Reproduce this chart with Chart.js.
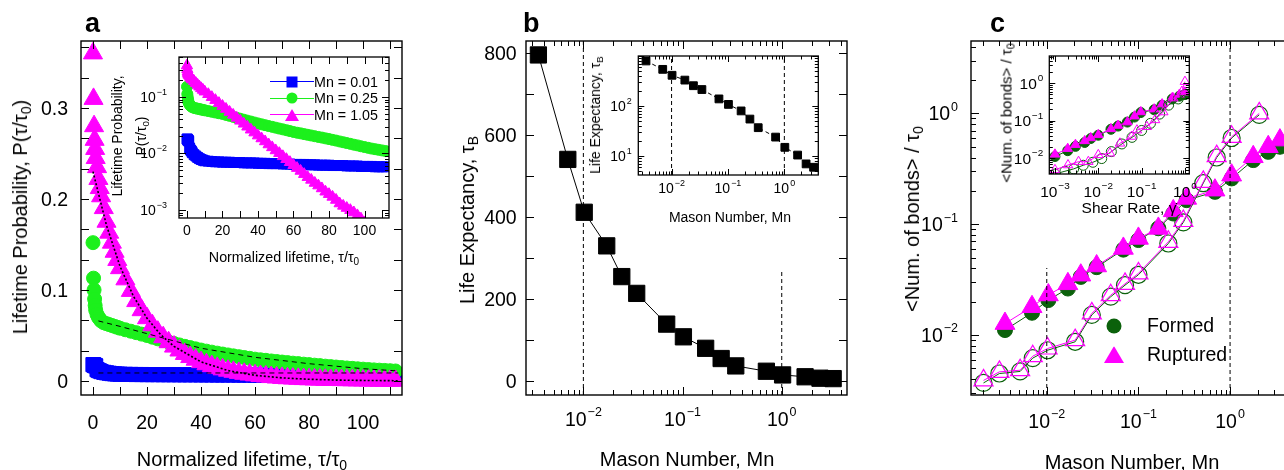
<!DOCTYPE html>
<html>
<head>
<meta charset="utf-8">
<script src="https://cdn.jsdelivr.net/npm/chart.js@4.4.1/dist/chart.umd.min.js"></script>
<style>
  html, body { margin: 0; padding: 0; background: #fff; overflow: hidden; }
  #fig { position: relative; width: 1284px; height: 470px; overflow: hidden; font-family: "Liberation Sans", Arial, sans-serif; color: #000; }
  canvas { position: absolute; }
  .t { position: absolute; white-space: nowrap; transform: translate(-50%, -50%); line-height: 1; }
  .rot { transform: translate(-50%, -50%) rotate(-90deg); }
  .lbl { position: absolute; top: 10px; font-weight: bold; font-size: 27px; line-height: 27px; }
  .leg { position: absolute; white-space: nowrap; transform: translateY(-50%); line-height: 1; }
  .mk { position: absolute; transform: translate(-50%, -50%); }
  sub { font-size: 0.7em; vertical-align: -0.3em; line-height: 0; }
</style>
</head>
<body>
<div id="fig">
  <canvas id="chartA" width="420" height="470" style="left:0;top:0"></canvas>
  <canvas id="chartB" width="430" height="470" style="left:430px;top:0"></canvas>
  <canvas id="chartC" width="440" height="470" style="left:870px;top:0"></canvas>
  <canvas id="insetA" width="300" height="235" style="left:100px;top:45px"></canvas>
  <canvas id="insetB" width="275" height="180" style="left:555px;top:45px"></canvas>
  <canvas id="insetC" width="205" height="165" style="left:995px;top:45px"></canvas>

  <div class="lbl" style="left:85px">a</div>
  <div class="lbl" style="left:523px">b</div>
  <div class="lbl" style="left:990px">c</div>

  <div class="t rot" style="left:20px;top:217px;font-size:20px">Lifetime Probability, P(τ/τ<sub>0</sub>)</div>
  <div class="t" style="left:242px;top:459px;font-size:20px">Normalized lifetime, τ/τ<sub>0</sub></div>
  <div class="t rot" style="left:129px;top:136px;font-size:14px;line-height:24px;text-align:center">Lifetime Probability,<br>P(τ/τ<sub>0</sub>)</div>
  <div class="t" style="left:284px;top:257px;font-size:14.3px">Normalized lifetime, τ/τ<sub>0</sub></div>

  <div class="t rot" style="left:467px;top:220px;font-size:20px">Life Expectancy, τ<sub>B</sub></div>
  <div class="t" style="left:687px;top:459px;font-size:20px">Mason Number, Mn</div>
  <div class="t rot" style="left:595px;top:115px;font-size:14px">Life Expectancy, τ<sub>B</sub></div>
  <div class="t" style="left:730px;top:217px;font-size:14px">Mason Number, Mn</div>

  <div class="t rot" style="left:912px;top:219px;font-size:20px">&lt;Num. of bonds&gt; / τ<sub>0</sub></div>
  <div class="t" style="left:1132px;top:462px;font-size:20px">Mason Number, Mn</div>
  <div class="t rot" style="left:1006px;top:113px;font-size:15px">&lt;Num. of bonds&gt; / τ<sub>0</sub></div>
  <div class="t" style="left:1129px;top:208px;font-size:15.5px">Shear Rate, γ̇</div>
</div>
<script>
// panel a: lifetime distributions
const tauA = [0, 0.2, 0.4, 0.6, 0.8, 1, 1.5, 2, 2.5, 3, 4, 5, 6, 7, 8, 9, 10,
  12, 14, 16, 18, 20, 22, 24, 26, 28, 30, 32, 34, 36, 38, 40, 42, 44, 46, 48, 50,
  52, 54, 56, 58, 60, 62, 64, 66, 68, 70, 72, 74, 76, 78, 80, 82, 84, 86, 88, 90,
  92, 94, 96, 98, 100, 102, 104, 106, 108, 110, 112];
const probMn001 = [0.018, 0.018, 0.0175, 0.017, 0.017, 0.0165, 0.0125, 0.0115, 0.011, 0.0103, 0.0095, 0.009, 0.0085, 0.0081, 0.0078, 0.0076, 0.0074,
  0.0073, 0.0072, 0.0071, 0.0071, 0.0070,
  0.0070, 0.0070, 0.0069, 0.0069, 0.0069, 0.0068, 0.0068, 0.0068, 0.0068, 0.0067,
  0.0067, 0.0067, 0.0066, 0.0066, 0.0066, 0.0066, 0.0065, 0.0065, 0.0065, 0.0064,
  0.0064, 0.0064, 0.0064, 0.0063, 0.0063, 0.0063, 0.0062, 0.0062, 0.0062, 0.0062,
  0.0061, 0.0061, 0.0061, 0.0061, 0.0060, 0.0060, 0.0060, 0.0060, 0.0059, 0.0059,
  0.0059, 0.0059, 0.0058, 0.0058, 0.0058, 0.0058];
const probMn025 = [0.152, 0.113, 0.100, 0.090, 0.083, 0.078, 0.073, 0.070, 0.068, 0.066, 0.064, 0.063, 0.062, 0.061, 0.060, 0.059, 0.058,
  0.0563, 0.0547, 0.0531, 0.0515, 0.050,
  0.0481, 0.0463, 0.0445, 0.0428, 0.0412, 0.0396, 0.0381, 0.0367, 0.0353, 0.034,
  0.0328, 0.0317, 0.0306, 0.0296, 0.0286, 0.0276, 0.0267, 0.0258, 0.0249, 0.024,
  0.0233, 0.0227, 0.022, 0.0214, 0.0208, 0.0202, 0.0196, 0.0191, 0.0185, 0.018,
  0.0174, 0.0169, 0.0163, 0.0158, 0.0153, 0.0148, 0.0143, 0.0139, 0.0134, 0.013,
  0.0126, 0.0122, 0.0119, 0.0116, 0.0113, 0.011];
const probMn105 = [0.360, 0.310, 0.280, 0.265, 0.255, 0.245, 0.235, 0.222, 0.212, 0.203, 0.190, 0.175, 0.163, 0.152, 0.142, 0.133, 0.124,
  0.1117, 0.099, 0.0878, 0.0778, 0.069,
  0.0612, 0.0542, 0.0481, 0.0426, 0.0378, 0.0335, 0.0297, 0.0263, 0.0234, 0.0207,
  0.0184, 0.0163, 0.0144, 0.0128, 0.0113, 0.0101, 0.0089, 0.0079, 0.0070, 0.0062,
  0.0055, 0.0049, 0.0043, 0.0038, 0.0034, 0.0030, 0.0027, 0.0024, 0.0021, 0.0019,
  0.0017, 0.0015, 0.0013, 0.00118, 0.00108, 0.00099, 0.0009, 0.0008, 0.0007, 0.0006,
  0.0005, 0.0004, 0.00035, 0.0003, 0.00025, 0.0002];
const fitTau001 = [2, 113];
const fit001 = [0.0088, 0.0088];
const fitTau025 = [2, 10, 20, 40, 60, 80, 100, 113];
const fit025 = [0.066, 0.06, 0.052, 0.036, 0.026, 0.019, 0.0135, 0.011];
const fitTau105 = [0, 5, 10, 15, 20, 25, 30, 40, 50, 60, 70, 80, 90, 100, 113];
const fit105 = [0.23, 0.171, 0.126, 0.093, 0.069, 0.051, 0.038, 0.021, 0.0114, 0.0062, 0.0034, 0.0019, 0.001, 0.0006, 0.0003];
const legendA = ["Mn = 0.01", "Mn = 0.25", "Mn = 1.05"];

// panel b: life expectancy
const mnB = [0.00352, 0.00697, 0.0102, 0.0172, 0.0244, 0.0345, 0.0692, 0.102, 0.171, 0.245, 0.344, 0.70, 1.02, 1.72, 2.43, 3.3];
const lifeB = [796, 541, 412, 330, 255, 214, 139, 108, 80, 55, 37, 24, 15, 10.5, 7, 6];
const refMn = [0.01, 1];
const refTopB = [830, 271];
const refTopInsetB = [1000, 1000];

// panel c: bond rates
const mnFilledC = [0.0035, 0.0069, 0.0104, 0.017, 0.0235, 0.035, 0.0685, 0.1, 0.165, 0.24, 0.336, 0.684, 1.04, 1.79, 2.61, 3.5];
const formedC = [0.0111, 0.0159, 0.0207, 0.0263, 0.0335, 0.041, 0.059, 0.072, 0.092, 0.125, 0.165, 0.196, 0.259, 0.379, 0.45, 0.5];
const rupturedC = [0.0127, 0.018, 0.023, 0.029, 0.0347, 0.042, 0.0605, 0.0745, 0.0917, 0.132, 0.171, 0.203, 0.277, 0.406, 0.5, 0.574];
const mnOpenC = [0.00204, 0.00304, 0.00512, 0.00703, 0.0102, 0.0204, 0.031, 0.0499, 0.0714, 0.1, 0.212, 0.309, 0.51, 0.714, 1.04, 2.08];
const formedOpenC = [0.0037, 0.0045, 0.0047, 0.0062, 0.0073, 0.0087, 0.0152, 0.0222, 0.0282, 0.035, 0.067, 0.104, 0.235, 0.40, 0.6, 0.97];
const rupturedOpenC = [0.0039, 0.00466, 0.00482, 0.00645, 0.00757, 0.009, 0.0157, 0.0229, 0.029, 0.036, 0.0694, 0.107, 0.241, 0.412, 0.615, 1.0];
const refTopC = [0.0403, 4.74];
const legendC = ["Formed", "Ruptured"];

// inset c: same rates against shear rate
const shearFilledC = [0.001, 0.00197, 0.00297, 0.00486, 0.0067, 0.01, 0.0196, 0.0286, 0.047, 0.0686, 0.096, 0.195, 0.297, 0.51, 0.746, 1.0];
const shearOpenRupt = [0.001, 0.002, 0.0035, 0.0059, 0.01, 0.0186, 0.0316, 0.059, 0.078, 0.132, 0.204, 0.316, 0.537, 0.85, 1.0];
const ruptOpenInset = [0.0049, 0.0066, 0.0081, 0.0081, 0.0123, 0.0136, 0.025, 0.038, 0.056, 0.069, 0.105, 0.17, 0.4, 0.6, 1.1];
const shearOpenForm = [0.001, 0.0017, 0.0027, 0.0045, 0.0075, 0.012, 0.02, 0.035, 0.06, 0.1, 0.16, 0.26, 0.42, 0.7, 1.0];
const formOpenInset = [0.0038, 0.0045, 0.0052, 0.0065, 0.0078, 0.0098, 0.015, 0.024, 0.036, 0.055, 0.085, 0.15, 0.26, 0.38, 0.5];

const BLUE = "#0000ff";
const GREEN = "#1cf01c";
const MAGENTA = "#ff00ff";
const DKGREEN = "#0b610b";
const NONE = "rgba(0,0,0,0)";
const FONT = "'Liberation Sans', Arial, sans-serif";

Chart.defaults.font.family = FONT;
Chart.defaults.color = "#000";

function linTicks(from, to, step, labelled) {
  const out = [];
  for (let k = 0; from + k * step <= to + 1e-9; k++) {
    const v = from + k * step;
    const hit = labelled.find(l => Math.abs(l - v) < 1e-6);
    out.push({ value: v, big: true, text: hit === undefined ? "" : String(hit) });
  }
  return out;
}

function logTicks(min, max, labelledExp) {
  const out = [];
  for (let e = -4; e <= 3; e++) {
    for (let m = 1; m <= 9; m++) {
      const v = m * Math.pow(10, e);
      if (v < min || v > max) continue;
      const lab = m === 1 && labelledExp.includes(e);
      out.push({ value: v, big: m === 1, text: lab ? "10" : "", exp: lab ? e : undefined });
    }
  }
  return out;
}

function axis(type, min, max, tickList, size, horizontal) {
  return {
    type, min, max, bounds: "data",
    grid: { display: false, drawTicks: false },
    border: { display: false },
    ticks: { display: false, autoSkip: false },
    afterBuildTicks: s => { s.ticks = tickList.map(t => ({ ...t })); },
    afterFit: s => { if (horizontal) s.height = size; else s.width = size; }
  };
}

// tick labels with a raised exponent ("10" + small power)
function drawLabels(ctx, scale, horizontal, a, o) {
  const fs = o.size;
  ctx.fillStyle = "#000";
  ctx.textAlign = "left";
  ctx.textBaseline = "alphabetic";
  scale.ticks.forEach(t => {
    if (!t.text) return;
    const p = scale.getPixelForValue(t.value);
    const expStr = t.exp === undefined ? "" : String(t.exp).replace("-", "\u2212");
    ctx.font = `${fs}px ${FONT}`;
    const w1 = ctx.measureText(t.text).width;
    ctx.font = `${fs * 0.64}px ${FONT}`;
    const w2 = expStr ? ctx.measureText(expStr).width + 1 : 0;
    const total = w1 + w2;
    const x0 = horizontal ? p - total / 2 : a.left - o.off - total;
    const cy = horizontal ? a.bottom + o.off : p;
    const base = cy + 0.36 * fs;
    ctx.font = `${fs}px ${FONT}`;
    ctx.fillText(t.text, x0, base);
    if (expStr) {
      ctx.font = `${fs * 0.64}px ${FONT}`;
      ctx.fillText(expStr, x0 + w1 + 1, base - 0.5 * fs);
    }
  });
}

// box, inward tick marks on all four sides, white plot area for insets
const framePlugin = {
  id: "frame",
  beforeDraw(chart, args, opts) {
    if (!opts.fill) return;
    const a = chart.chartArea;
    const ctx = chart.ctx;
    ctx.save();
    ctx.fillStyle = "#fff";
    ctx.fillRect(a.left, a.top, a.right - a.left, a.bottom - a.top);
    ctx.restore();
  },
  afterDraw(chart, args, opts) {
    const a = chart.chartArea;
    const ctx = chart.ctx;
    const xs = chart.scales.x;
    const ys = chart.scales.y;
    ctx.save();
    ctx.strokeStyle = "#000";
    ctx.lineWidth = 1;
    ctx.beginPath();
    xs.ticks.forEach(t => {
      const px = Math.round(xs.getPixelForValue(t.value)) + 0.5;
      if (px < a.left || px > a.right) return;
      const len = t.big ? opts.major : opts.minor;
      ctx.moveTo(px, a.bottom); ctx.lineTo(px, a.bottom - len);
      ctx.moveTo(px, a.top); ctx.lineTo(px, a.top + len);
    });
    ys.ticks.forEach(t => {
      const py = Math.round(ys.getPixelForValue(t.value)) + 0.5;
      if (py < a.top || py > a.bottom) return;
      const len = t.big ? opts.major : opts.minor;
      ctx.moveTo(a.left, py); ctx.lineTo(a.left + len, py);
      ctx.moveTo(a.right, py); ctx.lineTo(a.right - len, py);
    });
    ctx.stroke();
    ctx.lineWidth = opts.width;
    ctx.strokeRect(a.left, a.top, a.right - a.left, a.bottom - a.top);
    drawLabels(ctx, xs, true, a, opts.xLab);
    drawLabels(ctx, ys, false, a, opts.yLab);
    ctx.restore();
  }
};

const pts = (xs, ys) => xs.map((x, i) => ({ x, y: ys[i] }));

function marks(xs, ys, style, radius, fill, stroke, extra) {
  return Object.assign({
    data: pts(xs, ys), showLine: false, clip: 0,
    pointStyle: style, pointRadius: radius, pointHoverRadius: radius,
    pointBackgroundColor: fill, pointBorderColor: stroke, pointBorderWidth: 1,
    borderColor: stroke, borderWidth: 1
  }, extra);
}

function line(xs, ys, color, width, dash, extra) {
  return Object.assign({
    data: pts(xs, ys), showLine: true, clip: 0, pointRadius: 0, pointHoverRadius: 0,
    borderColor: color, borderWidth: width, borderDash: dash, tension: 0, order: 0
  }, extra);
}

function guide(x, y0, y1) {
  return line([x, x], [y0, y1], "#000", 1, [4, 3]);
}

function makeChart(id, datasets, x, y, padding, frame) {
  return new Chart(document.getElementById(id), {
    type: "scatter",
    data: { datasets },
    options: {
      responsive: false,
      animation: false,
      events: [],
      layout: { padding },
      plugins: { legend: { display: false }, tooltip: { enabled: false }, frame },
      scales: { x, y }
    },
    plugins: [framePlugin]
  });
}

// a
makeChart("chartA", [
  marks(tauA, probMn001, "rect", 10, BLUE, BLUE, { order: 3 }),
  marks(tauA, probMn025, "circle", 7, GREEN, GREEN, { order: 2 }),
  marks(tauA, probMn105, "triangle", 11, MAGENTA, MAGENTA, { order: 1 }),
  line(fitTau001, fit001, "#000", 1, [5, 4]),
  line(fitTau025, fit025, "#000", 1, [5, 4]),
  line(fitTau105, fit105, "#000", 1.6, [2, 2])
],
  axis("linear", -4.44, 114.4, linTicks(0, 110, 10, [0, 20, 40, 60, 80, 100]), 75, true),
  axis("linear", -0.0154, 0.3736, linTicks(0, 0.37, 0.1 / 3, [0, 0.1, 0.2, 0.3]), 81, false),
  { top: 41, right: 18 },
  { major: 8, minor: 8, width: 1.4, xLab: { size: 19.5, off: 27 }, yLab: { size: 19.5, off: 13 } });

makeChart("insetA", [
  marks(tauA, probMn001, "rect", 7, BLUE, BLUE, { order: 3 }),
  marks(tauA, probMn025, "circle", 5.5, GREEN, GREEN, { order: 2 }),
  marks(tauA, probMn105, "triangle", 6.5, MAGENTA, MAGENTA, { order: 1 })
],
  axis("linear", -4.5, 113.8, linTicks(0, 110, 10, [0, 20, 40, 60, 80, 100]), 62, true),
  axis("logarithmic", 0.00072, 0.51, logTicks(0.00072, 0.51, [-3, -2, -1]), 79, false),
  { top: 12, right: 11 },
  { major: 7, minor: 4, width: 1.3, fill: true, xLab: { size: 14, off: 12 }, yLab: { size: 14, off: 12 } });

// b
makeChart("chartB", [
  marks(mnB, lifeB, "rect", 11.5, "#000", "#000", { showLine: true, order: 1 }),
  guide(refMn[0], -34, refTopB[0]),
  guide(refMn[1], -34, refTopB[1])
],
  axis("logarithmic", 0.00264, 4.55, logTicks(0.00264, 4.55, [-2, -1, 0]), 75, true),
  axis("linear", -34, 830, linTicks(0, 800, 100, [0, 200, 400, 600, 800]), 96, false),
  { top: 41, right: 13 },
  { major: 8, minor: 5, width: 1.4, xLab: { size: 19.5, off: 24 }, yLab: { size: 19.5, off: 9.3 } });

makeChart("insetB", [
  marks(mnB, lifeB, "rect", 5.5, "#000", "#000", { showLine: true, borderDash: [4, 3], order: 1 }),
  guide(refMn[0], 4.2, refTopInsetB[0]),
  guide(refMn[1], 4.2, refTopInsetB[1])
],
  axis("logarithmic", 0.00257, 4.0, logTicks(0.00257, 4.0, [-2, -1, 0]), 50, true),
  axis("logarithmic", 4.2, 1000, logTicks(4.2, 1000, [1, 2]), 83.3, false),
  { top: 11, right: 11.7 },
  { major: 6, minor: 3.5, width: 1.3, fill: true, xLab: { size: 14, off: 13 }, yLab: { size: 14, off: 6.6 } });

// c
makeChart("chartC", [
  marks(mnFilledC, formedC, "circle", 7.5, DKGREEN, DKGREEN, { showLine: true, order: 4 }),
  marks(mnFilledC, rupturedC, "triangle", 11.5, MAGENTA, MAGENTA, { showLine: true, order: 3 }),
  marks(mnOpenC, formedOpenC, "circle", 8.5, NONE, DKGREEN, { showLine: true, pointBorderWidth: 1.2, order: 2 }),
  marks(mnOpenC, rupturedOpenC, "triangle", 11, NONE, MAGENTA, { showLine: true, pointBorderWidth: 1.2, order: 1 }),
  guide(refMn[0], 0.00288, refTopC[0]),
  guide(refMn[1], 0.00288, refTopC[1])
],
  axis("logarithmic", 0.00149, 4.74, logTicks(0.00149, 4.74, [-2, -1, 0]), 75, true),
  axis("logarithmic", 0.00288, 4.5, logTicks(0.00288, 4.5, [-2, -1, 0]), 101, false),
  { top: 41, right: 18 },
  { major: 8, minor: 5, width: 1.4, xLab: { size: 19.5, off: 26 }, yLab: { size: 19.5, off: 13 } });

makeChart("insetC", [
  marks(shearFilledC, formedC, "circle", 5, DKGREEN, DKGREEN, { showLine: true, order: 4 }),
  marks(shearFilledC, rupturedC, "triangle", 5.5, MAGENTA, MAGENTA, { showLine: true, order: 3 }),
  marks(shearOpenForm, formOpenInset, "circle", 5, NONE, DKGREEN, { showLine: true, order: 2 }),
  marks(shearOpenRupt, ruptOpenInset, "triangle", 5.5, NONE, MAGENTA, { showLine: true, order: 1 })
],
  axis("logarithmic", 0.00074, 1.26, logTicks(0.00074, 1.26, [-3, -2, -1, 0]), 36, true),
  axis("logarithmic", 0.0038, 5.3, logTicks(0.0038, 5.3, [-2, -1, 0]), 54.3, false),
  { top: 11, right: 10.7 },
  { major: 6, minor: 3.5, width: 1.3, fill: true, xLab: { size: 15.5, off: 17 }, yLab: { size: 15.5, off: 6 } });

// html legends
const fig = document.getElementById("fig");
function marker(shape, color, cx, cy, w, h) {
  const el = document.createElement("div");
  el.className = "mk";
  el.style.cssText += `left:${cx}px;top:${cy}px;width:${w}px;height:${h}px;background:${color};`;
  if (shape === "circle") el.style.borderRadius = "50%";
  if (shape === "triangle") el.style.clipPath = "polygon(50% 0, 100% 100%, 0 100%)";
  fig.appendChild(el);
}
function text(label, x, y, size) {
  const el = document.createElement("div");
  el.className = "leg";
  el.style.cssText += `left:${x}px;top:${y}px;font-size:${size}px;`;
  el.textContent = label;
  fig.appendChild(el);
}

const legendAStyle = [["rect", BLUE, 11, 11], ["circle", GREEN, 11, 11], ["triangle", MAGENTA, 14, 12]];
legendA.forEach((label, i) => {
  const y = 81.7 + i * 16.6;
  const [shape, color, w, h] = legendAStyle[i];
  const ln = document.createElement("div");
  ln.style.cssText = `position:absolute;left:270px;top:${y - 0.5}px;width:44px;height:1px;background:${color}`;
  fig.appendChild(ln);
  marker(shape, color, 292, y, w, h);
  text(label, 314, y, 14.3);
});

const legendCStyle = [["circle", DKGREEN, 15, 15], ["triangle", MAGENTA, 20, 17]];
legendC.forEach((label, i) => {
  const y = 326 + i * 28.5;
  const [shape, color, w, h] = legendCStyle[i];
  marker(shape, color, 1114, y, w, h);
  text(label, 1147, y, 19.5);
});
</script>
</body>
</html>
